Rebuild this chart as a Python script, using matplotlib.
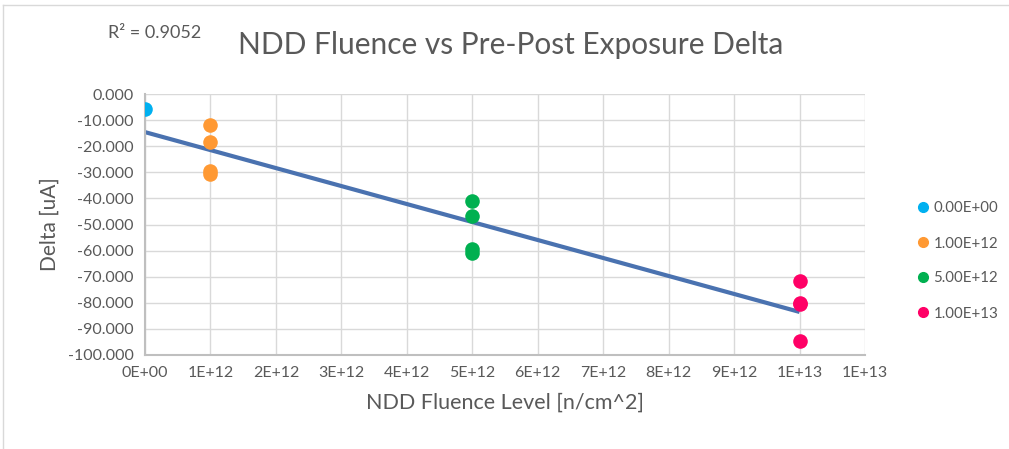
import numpy as np
import matplotlib
matplotlib.use("Agg")
import matplotlib.pyplot as plt
from matplotlib.ticker import FuncFormatter, MultipleLocator
from matplotlib.lines import Line2D

plt.rcParams['font.family'] = ['Lato', 'DejaVu Sans']

series_labels = ["0.00E+00", "1.00E+12", "5.00E+12", "1.00E+13"]
fluence = [0.0, 1e12, 5e12, 1e13]
deltas = [
    [-5.7],
    [-11.9, -18.4, -29.5, -30.8],
    [-41.0, -46.7, -59.4, -60.9],
    [-71.6, -80.1, -80.6, -94.6],
]
colors = ["#00B0F0", "#FF9933", "#00B050", "#FF0066"]
trend_intercept = -14.6
trend_slope = -6.89e-12
r2_text = "R² = 0.9052"

W, H, DPI = 1009, 449, 100
fig = plt.figure(figsize=(W / DPI, H / DPI), dpi=DPI)
left, right, top, bottom = 145, 865, 94, 355
ax = fig.add_axes([left / W, 1 - bottom / H, (right - left) / W, (bottom - top) / H])

txt = "#595959"
grid = "#D9D9D9"

for x, ys, c, lab in zip(fluence, deltas, colors, series_labels):
    ax.scatter([x] * len(ys), ys, s=110, color=c, zorder=3, linewidths=0, label=lab)

xt = np.array([0.0, 1e13])
ax.plot(xt, trend_intercept + trend_slope * xt, color="#4A72B0", lw=3, zorder=2, solid_capstyle="butt")

ax.set_xlim(0, 1.1e13)
ax.set_ylim(-100, 0)
ax.xaxis.set_major_locator(MultipleLocator(1e12))
ax.yaxis.set_major_locator(MultipleLocator(10))

def xfmt(v, pos):
    if abs(v) < 1:
        return "0E+00"
    e = int(np.floor(np.log10(abs(v)) + 1e-9))
    m = round(v / 10 ** e)
    if m >= 10:
        m //= 10
        e += 1
    return f"{m}E+{e:02d}"

ax.xaxis.set_major_formatter(FuncFormatter(xfmt))
ax.yaxis.set_major_formatter(FuncFormatter(lambda v, p: f"{v:.3f}" if abs(v) > 1e-9 else "0.000"))

ax.grid(True, color=grid, lw=1)
ax.set_axisbelow(True)
for s in ["top", "right"]:
    ax.spines[s].set_visible(False)
ax.spines["left"].set_color("#BFBFBF")
ax.spines["bottom"].set_color("#BFBFBF")
ax.spines["left"].set_linewidth(1.5)
ax.spines["bottom"].set_linewidth(1.5)
ax.tick_params(length=0, colors=txt, labelsize=11.5, pad=8)

ax.set_ylabel("Delta [uA]", color=txt, fontsize=15, labelpad=6)
ax.set_xlabel("NDD Fluence Level [n/cm^2]", color=txt, fontsize=15.5, labelpad=9)

fig.text(511 / W, 1 - 45 / H, "NDD Fluence vs Pre-Post Exposure Delta", ha="center", va="center",
         color=txt, fontsize=21.5)
fig.text(155 / W, 1 - 33 / H, r2_text, ha="center", va="center", color=txt, fontsize=13)

handles = [Line2D([0], [0], marker="o", ls="", color=c, markersize=7) for c in colors]
fig.legend(handles, series_labels, loc="center left", bbox_to_anchor=(902 / W, 1 - 261 / H),
           frameon=False, handletextpad=0.2, labelspacing=1.4, fontsize=10.8, labelcolor=txt,
           handlelength=1.0)

# chart frame fragments
fig.add_artist(Line2D([3 / W, 1], [1 - 5 / H, 1 - 5 / H], color="#D9D9D9", lw=1))
fig.add_artist(Line2D([3 / W, 3 / W], [1 - 5 / H, 0], color="#D9D9D9", lw=1))

fig.savefig("out.png", dpi=DPI)
